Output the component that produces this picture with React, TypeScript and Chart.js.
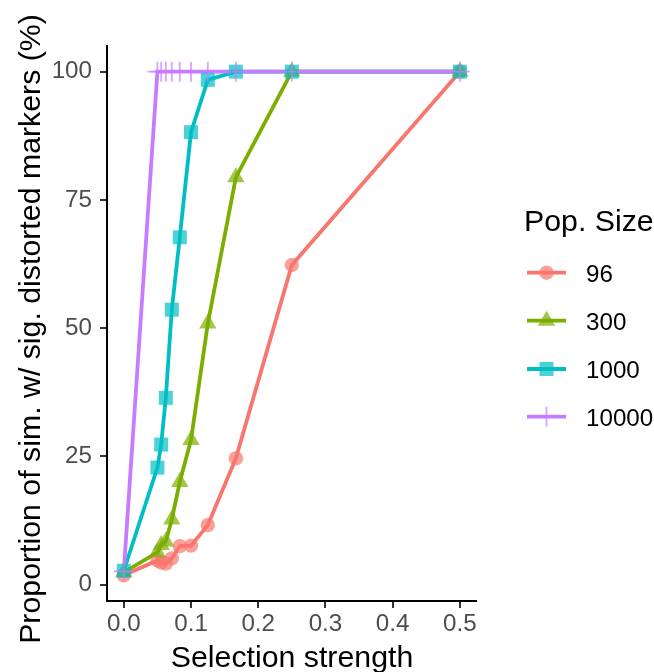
import React, { useEffect, useRef } from 'react';
import { Chart, registerables } from 'chart.js';

Chart.register(...registerables);

// ---- data ----
const selection = [0, 0.05, 0.0556, 0.0625, 0.0714, 0.0833, 0.1, 0.125, 0.1667, 0.25, 0.5];
const pop96 = [1.8, 4.7, 4.3, 4.1, 5.1, 7.5, 7.6, 11.6, 24.6, 62.3, 100];
const pop300 = [2.4, 6.3, 7.7, 8.4, 12.7, 20.0, 28.2, 50.9, 79.4, 100, 100];
const pop1000 = [2.7, 22.8, 27.3, 36.4, 53.6, 67.7, 88.2, 98.4, 100, 100, 100];
const pop10000 = [2.6, 100, 100, 100, 100, 100, 100, 100, 100, 100, 100];
const popLabels = ['96', '300', '1000', '10000'];
const xTicks = [0, 0.1, 0.2, 0.3, 0.4, 0.5];
const yTicks = [0, 25, 50, 75, 100];
const xTitle = 'Selection strength';
const yTitle = 'Proportion of sim. w/ sig. distorted markers (%)';
const legendTitle = 'Pop. Size';

const seriesValues = [pop96, pop300, pop1000, pop10000];
const colors = ['#F8766D', '#7CAE00', '#00BFC4', '#C77CFF'];
const fills = ['rgba(248,118,109,0.7)', 'rgba(124,174,0,0.7)', 'rgba(0,191,196,0.7)', 'rgba(199,124,255,0.7)'];
const pointStyles = ['circle', 'triangle', 'rect', 'cross'];
const pointRadii = [7.2, 10, 9.9, 10];
const FONT = '"Liberation Sans", Arial, Helvetica, sans-serif';
const TITLE_SIZE = 30.3;
const TEXT_SIZE = 24.2;
const LINE_W = 3.8;

function drawMarker(ctx: CanvasRenderingContext2D, i: number, x: number, y: number) {
  const r = pointRadii[i];
  ctx.save();
  ctx.fillStyle = fills[i];
  ctx.strokeStyle = fills[i];
  ctx.beginPath();
  if (i === 0) {
    ctx.arc(x, y, r, 0, Math.PI * 2);
    ctx.fill();
  } else if (i === 1) {
    for (let k = 0; k < 3; k++) {
      const a = (k * 2 * Math.PI) / 3;
      const px = x + Math.sin(a) * r;
      const py = y - Math.cos(a) * r;
      if (k === 0) ctx.moveTo(px, py);
      else ctx.lineTo(px, py);
    }
    ctx.closePath();
    ctx.fill();
  } else if (i === 2) {
    const s = Math.SQRT1_2 * r;
    ctx.rect(x - s, y - s, 2 * s, 2 * s);
    ctx.fill();
  } else {
    ctx.lineWidth = 1.8;
    ctx.moveTo(x - r, y);
    ctx.lineTo(x + r, y);
    ctx.moveTo(x, y - r);
    ctx.lineTo(x, y + r);
    ctx.stroke();
  }
  ctx.restore();
}

const textPlugin = {
  id: 'customText',
  afterDraw(chart: any) {
    const ctx: CanvasRenderingContext2D = chart.ctx;
    ctx.save();
    ctx.fillStyle = '#000000';
    ctx.textBaseline = 'alphabetic';

    // axis titles
    ctx.font = `${TITLE_SIZE}px ${FONT}`;
    ctx.textAlign = 'center';
    ctx.fillText(xTitle, 292, 666.5);
    ctx.save();
    ctx.translate(39.5, 329);
    ctx.rotate(-Math.PI / 2);
    ctx.fillText(yTitle, 0, 0);
    ctx.restore();

    // legend
    ctx.textAlign = 'left';
    ctx.fillText(legendTitle, 524, 231);
    const itemY = [272.7, 320.7, 369, 416.7];
    popLabels.forEach((lab, i) => {
      const cy = itemY[i];
      ctx.strokeStyle = colors[i];
      ctx.lineWidth = LINE_W;
      ctx.beginPath();
      ctx.moveTo(527, cy);
      ctx.lineTo(566, cy);
      ctx.stroke();
      drawMarker(ctx, i, 546.5, cy);
      ctx.fillStyle = '#000000';
      ctx.font = `${TEXT_SIZE}px ${FONT}`;
      ctx.fillText(lab, 586, cy + 8.8);
    });
    ctx.restore();
  },
};

export default function App() {
  const ref = useRef<HTMLCanvasElement | null>(null);

  useEffect(() => {
    if (!ref.current) return;
    const lineSets = seriesValues.map((vals, i) => ({
      label: popLabels[i] + ' line',
      data: vals.map((v, j) => ({ x: selection[j], y: v })),
      borderColor: colors[i],
      borderWidth: LINE_W,
      pointRadius: 0,
      fill: false,
      tension: 0,
      order: 20 - i,
    }));
    const pointSets = seriesValues.map((vals, i) => ({
      label: popLabels[i],
      data: vals.map((v, j) => ({ x: selection[j], y: v })),
      showLine: false,
      pointStyle: pointStyles[i],
      pointRadius: pointRadii[i],
      pointBackgroundColor: fills[i],
      pointBorderColor: fills[i],
      pointBorderWidth: i === 3 ? 1.8 : 0,
      order: 10 - i,
    }));

    const chart = new Chart(ref.current, {
      type: 'line',
      data: { datasets: [...lineSets, ...pointSets] as any },
      plugins: [textPlugin],
      options: {
        animation: false,
        responsive: false,
        events: [],
        layout: { padding: { left: 0, top: 46, right: 178, bottom: 0 } },
        plugins: { legend: { display: false }, tooltip: { enabled: false } },
        scales: {
          x: {
            type: 'linear',
            min: -0.025,
            max: 0.524,
            afterFit: (s: any) => {
              s.height = 71;
            },
            afterBuildTicks: (s: any) => {
              s.ticks = xTicks.map((v) => ({ value: v }));
            },
            ticks: {
              callback: (v: any) => Number(v).toFixed(1),
              color: '#4D4D4D',
              font: { family: FONT, size: TEXT_SIZE },
              padding: 2,
              maxRotation: 0,
              autoSkip: false,
            },
            grid: { drawOnChartArea: false, drawTicks: true, tickLength: 7, color: '#333333', lineWidth: 2 },
            border: { display: true, color: '#000000', width: 2 },
            title: { display: false },
          },
          y: {
            type: 'linear',
            min: -3.2,
            max: 105,
            afterFit: (s: any) => {
              s.width = 107;
            },
            afterBuildTicks: (s: any) => {
              s.ticks = yTicks.map((v) => ({ value: v }));
            },
            ticks: {
              callback: (v: any) => String(v),
              color: '#4D4D4D',
              font: { family: FONT, size: TEXT_SIZE },
              padding: 8,
              autoSkip: false,
            },
            grid: { drawOnChartArea: false, drawTicks: true, tickLength: 7, color: '#333333', lineWidth: 2 },
            border: { display: true, color: '#000000', width: 2 },
            title: { display: false },
          },
        },
      },
    });
    return () => chart.destroy();
  }, []);

  return (
    <div style={{ position: 'absolute', left: 0, top: 0, width: 654, height: 672 }}>
      <canvas ref={ref} width={654} height={672} style={{ display: 'block', width: 654, height: 672 }} />
    </div>
  );
}
